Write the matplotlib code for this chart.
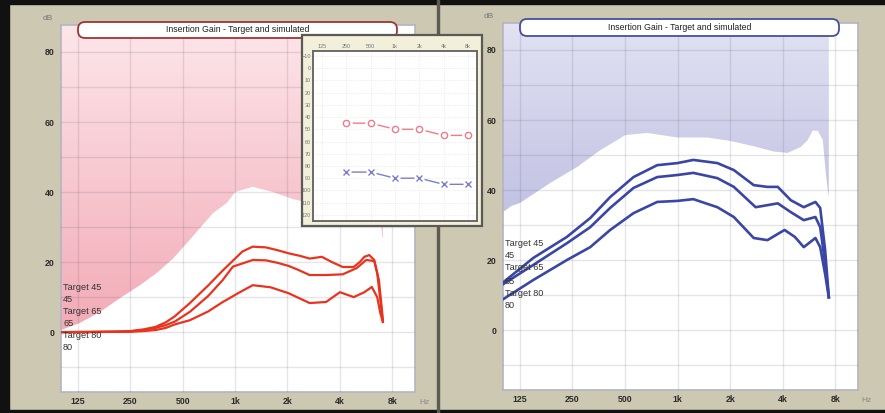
import numpy as np
import matplotlib
matplotlib.use("Agg")
import matplotlib.pyplot as plt
from matplotlib.patches import Rectangle, FancyBboxPatch
from matplotlib.ticker import NullLocator

plt.rcParams['font.family'] = ['Liberation Sans', 'DejaVu Sans']

W, H = 885, 413

# ---- data ----
octave_ticks = [125, 250, 500, 1000, 2000, 4000, 8000]
octave_labels = ["125", "250", "500", "1k", "2k", "4k", "8k"]
gain_ticks = [0, 20, 40, 60, 80]
title = "Insertion Gain - Target and simulated"
curve_labels = ["Target 45", "45", "Target 65", "65", "Target 80", "80"]

# left panel: limit (pink area boundary)
left_fill_f = [100, 128, 167, 218, 284, 355, 440, 528, 628, 747, 897, 1000, 1260, 1650, 2150,
               2600, 3200, 4000, 5000, 6000, 6700, 6900, 7000, 7050]
left_fill_db = [0.6, 2.6, 5.7, 9.7, 13.4, 16.9, 21, 25.4, 29.7, 34, 36.9, 40, 41.5, 40, 38,
                37, 36, 35, 35, 36, 36, 31, 27, 27]

# left panel: simulated gain curves
red45_f = [100, 150, 200, 250, 300, 350, 400, 450, 550, 700, 850, 1000, 1100, 1260, 1500, 1750,
           2030, 2350, 2680, 3150, 3600, 4150, 4800, 5200, 5530, 5900, 6300, 6550, 6830, 7060]
red45_db = [0, 0, 0.1, 0.3, 0.8, 1.5, 2.8, 4.5, 8.3, 13.3, 17.6, 21, 23, 24.4, 24.2, 23.4,
            22.5, 21.8, 21, 21.5, 20, 18.6, 18.6, 20, 21.5, 22, 20.6, 16.9, 9.1, 2.9]
red65_f = [100, 250, 300, 350, 400, 450, 550, 700, 850, 971, 1100, 1264, 1500, 1750, 2030, 2300,
           2680, 3300, 4150, 5000, 5660, 6300, 6700, 6950, 7060]
red65_db = [0, 0.2, 0.6, 1.2, 2, 3, 5.8, 10.3, 14.9, 18.7, 19.6, 20.6, 20.5, 19.8, 18.9, 17.8,
            16.3, 16.3, 16.5, 18.3, 20.6, 20.3, 14.9, 7.1, 3.5]
red80_f = [100, 250, 300, 350, 400, 450, 550, 700, 850, 1065, 1264, 1600, 2030, 2680, 3330,
           4000, 4800, 5530, 6100, 6550, 6830, 7060]
red80_db = [0, 0.1, 0.3, 0.6, 1.2, 2.2, 3.4, 5.9, 8.6, 11.4, 13.4, 12.8, 11.1, 8.3, 8.6,
            11.4, 10, 11.4, 12.9, 10, 5.4, 2.9]

# right panel: limit (blue area boundary)
right_fill_f = [100, 112, 125, 186, 266, 361, 452, 501, 669, 1000, 1475, 2013, 2730, 3560, 4270,
                5080, 5570, 5950, 6360, 6790, 7060, 7250, 7350]
right_fill_db = [33.7, 35.5, 36.3, 42, 46.6, 51.4, 54.3, 55.7, 56.3, 55, 55, 54, 52.5, 51, 50.6,
                 52.3, 54.3, 57, 56.9, 54.3, 45, 40, 38]

# right panel: simulated gain curves
blue45_f = [100, 149, 232, 316, 411, 559, 764, 1000, 1230, 1690, 2100, 2730, 3270, 3750, 4450,
            5280, 6160, 6560, 7000, 7350]
blue45_db = [13.6, 20.6, 26.6, 32, 38, 43.7, 47.1, 47.7, 48.6, 47.7, 45.7, 41.4, 40.9, 40.9,
             37.1, 35.1, 36.6, 34.9, 22.9, 9.4]
blue65_f = [100, 149, 232, 316, 411, 559, 764, 1000, 1230, 1690, 2100, 2800, 3750, 4450, 5280,
            6160, 6560, 7000, 7350]
blue65_db = [13.1, 18.6, 24.8, 29.4, 34.9, 40.6, 43.7, 44.3, 44.9, 43.4, 40.9, 35.1, 36.2, 33.7,
             31.4, 32.3, 29.4, 19, 9.4]
blue80_f = [100, 149, 232, 316, 411, 559, 764, 1000, 1230, 1690, 2100, 2730, 3270, 4100, 4700,
            5280, 6160, 6560, 7000, 7350]
blue80_db = [8.8, 14.3, 20, 23.7, 28.6, 33.4, 36.6, 36.9, 37.4, 35.1, 32.3, 26.3, 25.7, 28.6,
             26.6, 23.7, 26.3, 23.7, 16, 9.4]

# inset audiogram
aud_f = [250, 500, 1000, 2000, 4000, 8000]
aud_right = [45, 45, 50, 50, 55, 55]
aud_left = [85, 85, 90, 90, 95, 95]
aud_xlabels = ["125", "250", "500", "1k", "2k", "4k", "8k"]
aud_yticks = list(range(-10, 121, 10))


def fpos(x, y):
    return x / W, 1 - y / H


def frect(x0, y0, x1, y1):
    return [x0 / W, 1 - y1 / H, (x1 - x0) / W, (y1 - y0) / H]


def hexrgb(h):
    return np.array([int(h[i:i + 2], 16) / 255 for i in (1, 3, 5)])


def gradient_fill(ax, f, db, bottom_hex, top_hex):
    poly = ax.fill_between(f, db, 100, color='none', lw=0)
    t = np.linspace(0, 1, 256)[:, None]
    bottom = hexrgb(bottom_hex)
    top = hexrgb(top_hex)
    img = (bottom + (top - bottom) * t)[:, None, :]
    im = ax.imshow(img, extent=[0, 1, 0, 1], transform=ax.transAxes, origin='lower',
                   aspect='auto', zorder=1, interpolation='bilinear')
    im.set_clip_path(poly.get_paths()[0], transform=ax.transData)


def setup_gain_axes(ax):
    ax.set_xscale('log')
    ax.set_xlim(100, 10800)
    ax.set_ylim(-17.1, 87.7)
    ax.set_xticks(octave_ticks)
    ax.set_xticklabels(octave_labels)
    ax.xaxis.set_minor_locator(NullLocator())
    ax.set_yticks(gain_ticks)
    ax.set_yticks([-10, 10, 30, 50, 70], minor=True)
    ax.tick_params(which='both', length=0)
    ax.tick_params(axis='y', pad=4.5, labelsize=6.3, labelcolor='#2a2a2a')
    ax.tick_params(axis='x', pad=3.5, labelsize=6.3, labelcolor='#2a2a2a')
    for lab in ax.get_xticklabels() + ax.get_yticklabels():
        lab.set_fontweight('bold')
    ax.grid(True, which='both', color='#4a4a60', alpha=0.14, lw=1.0, zorder=2)
    ax.set_axisbelow(False)
    for s in ax.spines.values():
        s.set_color('#b4b4c2')
        s.set_linewidth(1.2)
    ax.set_facecolor('white')


fig = plt.figure(figsize=(W / 100, H / 100), dpi=100)
fig.patch.set_facecolor('#ccc8b2')

# frame strips
fig.add_artist(Rectangle((0, 0), 9 / W, 1, transform=fig.transFigure, color='#111111', zorder=0))
fig.add_artist(Rectangle((0, 1 - 4 / H), 1, 4 / H, transform=fig.transFigure, color='#111111', zorder=0))
fig.add_artist(Rectangle((0, 0), 1, 3 / H, transform=fig.transFigure, color='#111111', zorder=0))
fig.add_artist(Rectangle((437 / W, 0), 1.5 / W, 1, transform=fig.transFigure, color='#5c5b52', zorder=0))

axL = fig.add_axes(frect(61, 25, 415, 392))
axR = fig.add_axes(frect(503, 23, 858, 390))

setup_gain_axes(axL)
setup_gain_axes(axR)

gradient_fill(axL, left_fill_f, left_fill_db, '#f09fac', '#fde6ea')
gradient_fill(axR, right_fill_f, right_fill_db, '#a3a3d5', '#e2e2f3')

red = '#e8341f'
for f, db in [(red45_f, red45_db), (red65_f, red65_db), (red80_f, red80_db)]:
    axL.plot(f, db, color=red, lw=1.6, zorder=4, solid_joinstyle='round')
blue = '#3a46a6'
for f, db in [(blue45_f, blue45_db), (blue65_f, blue65_db), (blue80_f, blue80_db)]:
    axR.plot(f, db, color=blue, lw=1.9, zorder=4, solid_joinstyle='round')

# curve labels
left_label_y = [287, 299, 312, 323, 336, 348]
right_label_y = [243, 256, 268, 281, 294, 306]
for txt, y in zip(curve_labels, left_label_y):
    fig.text(*fpos(63, y), txt, fontsize=6.6, color='#333333', va='center', ha='left', zorder=10)
for txt, y in zip(curve_labels, right_label_y):
    fig.text(*fpos(505, y), txt, fontsize=6.6, color='#333333', va='center', ha='left', zorder=10)

# units
fig.text(*fpos(48, 18), "dB", fontsize=6, color='#777777', ha='center', va='center')
fig.text(*fpos(489, 17), "dB", fontsize=6, color='#777777', ha='center', va='center')
fig.text(*fpos(424, 402), "Hz", fontsize=6, color='#8a8a8a', ha='center', va='center')
fig.text(*fpos(866, 401), "Hz", fontsize=6, color='#8a8a8a', ha='center', va='center')

# title boxes
for (x0, y0, x1, y1), edge in [((78, 22, 397, 38), '#9e3434'), ((520, 19, 839, 36), '#46509a')]:
    r = frect(x0, y0, x1, y1)
    box = FancyBboxPatch((r[0], r[1]), r[2], r[3], boxstyle="round,pad=0,rounding_size=0.008",
                         transform=fig.transFigure, facecolor='white', edgecolor=edge,
                         lw=1.3, zorder=8, mutation_aspect=W / H)
    fig.add_artist(box)
    fig.text((x0 + x1) / 2 / W, 1 - (y0 + y1) / 2 / H, title, fontsize=6.3, color='#222222',
             ha='center', va='center', zorder=9)

# inset audiogram
fig.add_artist(Rectangle(frect(302, 35, 482, 226)[:2], 180 / W, 191 / H, transform=fig.transFigure,
                         facecolor='#f2efdb', edgecolor='#5a5a55', lw=1.6, zorder=11))
axI = fig.add_axes(frect(313, 51, 477, 221))
axI.set_zorder(12)
axI.set_xscale('log')
axI.set_xlim(96.7, 10340)
axI.set_ylim(125, -14)
axI.set_xticks(octave_ticks)
axI.set_xticklabels(aud_xlabels)
axI.xaxis.set_minor_locator(NullLocator())
axI.set_yticks(aud_yticks)
axI.xaxis.tick_top()
axI.tick_params(which='both', length=0, labelsize=4, labelcolor='#777777', pad=1.5)
axI.grid(True, color='#e4e4e4', alpha=1.0, lw=0.6, ls=':')
for s in axI.spines.values():
    s.set_color('#6a6a66')
    s.set_linewidth(1.4)

pink = '#f07a8a'
lav = '#7c7cd2'
axI.plot(aud_f, aud_right, color=pink, lw=1.0, zorder=2)
axI.plot(aud_f, aud_right, ls='none', marker='o', ms=9, mfc='white', mec='none', zorder=3)
axI.plot(aud_f, aud_right, ls='none', marker='o', ms=4.5, mfc='white', mec=pink, mew=1.0, zorder=4)
axI.plot(aud_f, aud_left, color=lav, lw=1.0, zorder=2)
axI.plot(aud_f, aud_left, ls='none', marker='s', ms=7, mfc='white', mec='none', zorder=3)
axI.plot(aud_f, aud_left, ls='none', marker='x', ms=4, mec=lav, mew=1.0, zorder=4)

fig.savefig("out.png", dpi=100, facecolor=fig.get_facecolor())
